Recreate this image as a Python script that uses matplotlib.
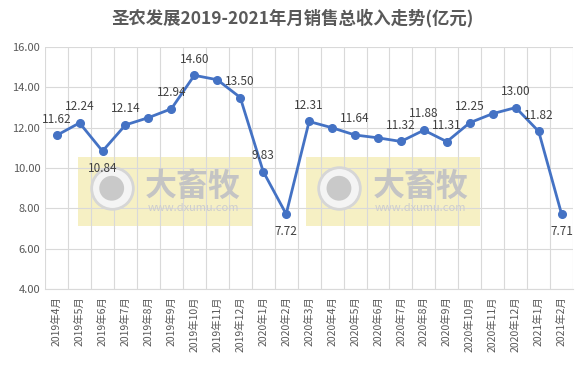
import numpy as np
import matplotlib.pyplot as plt
from matplotlib.patches import Rectangle

plt.rcParams['font.family'] = ['Noto Sans CJK SC', 'DejaVu Sans']

# monthly data
months = ['2019年4月', '2019年5月', '2019年6月', '2019年7月', '2019年8月', '2019年9月',
          '2019年10月', '2019年11月', '2019年12月', '2020年1月', '2020年2月', '2020年3月',
          '2020年4月', '2020年5月', '2020年6月', '2020年7月', '2020年8月', '2020年9月',
          '2020年10月', '2020年11月', '2020年12月', '2021年1月', '2021年2月']
revenue = [11.62, 12.24, 10.84, 12.14, 12.50, 12.94, 14.60, 14.38, 13.50, 9.83, 7.72, 12.31,
           12.00, 11.64, 11.50, 11.32, 11.88, 11.31, 12.25, 12.70, 13.00, 11.82, 7.71]
shown = [True, True, True, True, False, True, True, False, True, True, True, True,
         False, True, False, True, True, True, True, False, True, True, True]
below = ['2019年6月', '2020年2月', '2021年2月']

fig = plt.figure(figsize=(5.86, 3.65), dpi=100)
ax = fig.add_axes([0.077, 0.208, 0.901, 0.663])

x = np.arange(len(months))

# watermark boxes
for x0 in (0.95, 10.85):
    ax.add_patch(Rectangle((x0, 7.12), 7.6, 3.45, facecolor='#f6f0c4', edgecolor='none', zorder=0))
    ax.scatter([x0 + 1.45], [9.0], s=900, facecolor='#f4f4f4', edgecolor='#d6d6d6',
               linewidth=2, zorder=1)
    ax.scatter([x0 + 1.45], [9.0], s=320, facecolor='#c9c9c9', edgecolor='none', zorder=1)
    ax.text(x0 + 5.0, 9.05, '大畜牧', fontsize=23, color='#c4c4c4', ha='center', va='center',
            fontweight='bold', zorder=1)
    ax.text(x0 + 5.0, 8.0, 'www.dxumu.com', fontsize=8, color='#cdcdcd', ha='center', va='center', zorder=1)

ax.plot(x, revenue, color='#4472c4', linewidth=2, marker='o', markersize=5.5, zorder=3)

for i, (m, v) in enumerate(zip(months, revenue)):
    if not shown[i]:
        continue
    if m in below:
        ax.annotate(f'{v:.2f}', (i, v), xytext=(0, -8), textcoords='offset points',
                    ha='center', va='top', fontsize=8.5, color='#404040', zorder=4)
    else:
        ax.annotate(f'{v:.2f}', (i, v), xytext=(0, 7), textcoords='offset points',
                    ha='center', va='bottom', fontsize=8.5, color='#404040', zorder=4)

ax.set_xlim(-0.5, len(months) - 0.5)
ax.set_ylim(4, 16)
ax.set_yticks(np.arange(4, 16.1, 2))
ax.set_yticklabels([f'{t:.2f}' for t in np.arange(4, 16.1, 2)], fontsize=8, color='#595959')
ax.set_xticks(x)
ax.set_xticklabels(months, rotation=90, fontsize=7.5, color='#595959')
ax.set_xticks(np.arange(-0.5, len(months), 1), minor=True)
ax.tick_params(axis='both', which='both', length=0)
ax.tick_params(axis='x', pad=5)
ax.grid(True, axis='y', color='#d9d9d9', linewidth=0.8)
ax.grid(True, axis='x', which='minor', color='#d9d9d9', linewidth=0.8)
ax.set_axisbelow(True)
for s in ['top', 'right', 'left']:
    ax.spines[s].set_visible(False)
ax.spines['bottom'].set_color('#d9d9d9')

fig.text(0.5, 0.95, '圣农发展2019-2021年月销售总收入走势(亿元)', ha='center', va='center',
         fontsize=12.5, fontweight='bold', color='#595959')

fig.savefig('out.png', dpi=100)
